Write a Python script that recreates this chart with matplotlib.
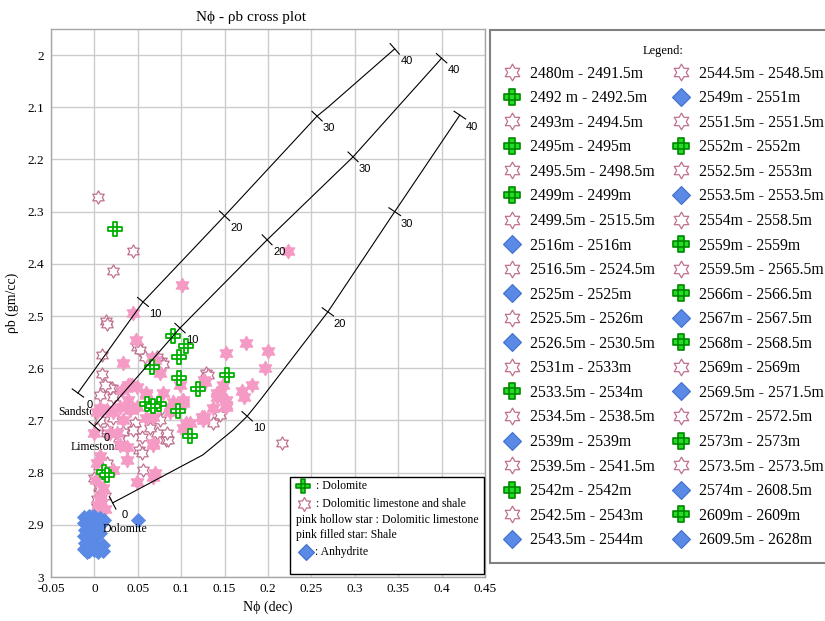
import numpy as np
import matplotlib
matplotlib.use("Agg")
import matplotlib.pyplot as plt
from matplotlib.path import Path
from matplotlib.lines import Line2D
from matplotlib.patches import Rectangle

plt.rcParams['font.family'] = ['Liberation Serif', 'DejaVu Serif']

# ---------------- data ----------------
hollow_x = [0.004, 0.045, 0.021, 0.013, 0.014, 0.009, 0.009, 0.216, 0.049, 0.053,
            0.058, 0.077, 0.079, 0.129, 0.131, 0.020, 0.022, 0.145, 0.137, 0.083,
            0.072, 0.022, 0.047, 0.076, 0.078, 0.014, 0.033, 0.055, 0.051, 0.085,
            0.005, 0.005, 0.007, 0.056, 0.028, 0.014, 0.055, 0.007, 0.003, 0.007,
            0.015, 0.045, 0.064, 0.084, 0.018, 0.007, 0.012, 0.072, 0.010, 0.012,
            0.000, 0.003]
hollow_y = [2.272, 2.375, 2.414, 2.509, 2.516, 2.574, 2.611, 2.743, 2.559, 2.566,
            2.578, 2.587, 2.591, 2.610, 2.612, 2.638, 2.655, 2.690, 2.705, 2.737,
            2.725, 2.696, 2.705, 2.699, 2.677, 2.725, 2.722, 2.731, 2.757, 2.737,
            2.788, 2.827, 2.865, 2.795, 2.734, 2.782, 2.762, 2.829, 2.866, 2.699,
            2.718, 2.718, 2.715, 2.724, 2.638, 2.651, 2.632, 2.578, 2.800, 2.845,
            2.810, 2.850]

filled_x = [0.223, 0.101, 0.044, 0.048, 0.033, 0.175, 0.152, 0.200, 0.196, 0.181,
            0.170, 0.148, 0.127, 0.076, 0.070, 0.066, 0.099, 0.039, 0.049, 0.060,
            0.079, 0.141, 0.172, 0.145, 0.152, 0.126, 0.106, 0.102, 0.126, 0.102,
            0.087, 0.068, 0.068, 0.041, 0.091, 0.102, 0.141, 0.152, 0.007, 0.030,
            0.014, 0.037, 0.049, 0.033, 0.060, 0.087, 0.099, 0.110, 0.106, 0.124,
            0.137, -0.001, 0.030, 0.068, 0.007, 0.022, 0.070, 0.003, 0.008, 0.049,
            0.068, 0.038, 0.007, 0.018, 0.026, 0.038, 0.125, 0.152, 0.041, 0.022,
            0.003, 0.032, 0.043, 0.039, 0.060, 0.002, 0.010, 0.004, 0.012]
filled_y = [2.375, 2.440, 2.494, 2.546, 2.590, 2.551, 2.571, 2.567, 2.600, 2.632,
            2.643, 2.632, 2.626, 2.610, 2.584, 2.581, 2.632, 2.632, 2.635, 2.647,
            2.647, 2.647, 2.655, 2.648, 2.674, 2.693, 2.705, 2.715, 2.623, 2.667,
            2.674, 2.693, 2.744, 2.632, 2.664, 2.661, 2.655, 2.661, 2.677, 2.674,
            2.680, 2.674, 2.674, 2.699, 2.696, 2.683, 2.670, 2.705, 2.718, 2.693,
            2.677, 2.725, 2.747, 2.747, 2.769, 2.795, 2.801, 2.782, 2.846, 2.818,
            2.808, 2.776, 2.852, 2.724, 2.724, 2.751, 2.699, 2.670, 2.680, 2.684,
            2.684, 2.642, 2.632, 2.661, 2.651, 2.815, 2.830, 2.862, 2.870]

cross_x = [0.024, 0.091, 0.106, 0.098, 0.066, 0.098, 0.153, 0.119, 0.061, 0.074,
           0.096, 0.110, 0.011, 0.014, 0.068]
cross_y = [2.333, 2.538, 2.557, 2.578, 2.598, 2.619, 2.612, 2.640, 2.669, 2.669,
           2.682, 2.730, 2.798, 2.805, 2.672]

diamond_x = [-0.012, -0.006, 0.000, 0.006, 0.011, -0.012, -0.005, 0.002, 0.008,
             -0.011, -0.004, 0.003, 0.006, -0.012, -0.006, 0.000, -0.011, -0.005,
             0.002, 0.010, -0.012, -0.006, 0.000, 0.010, -0.009, 0.004, 0.050]
diamond_y = [2.885, 2.883, 2.884, 2.886, 2.890, 2.897, 2.895, 2.896, 2.898,
             2.910, 2.908, 2.910, 2.915, 2.922, 2.920, 2.923, 2.935, 2.933,
             2.936, 2.938, 2.947, 2.950, 2.948, 2.950, 2.953, 2.953, 2.891]

# porosity lines (neutron porosity vs bulk density)
sand_x = [-0.019, 0.056, 0.150, 0.2565, 0.269, 0.346]
sand_y = [2.6475, 2.473, 2.308, 2.117, 2.100, 1.988]
sand_ticks = [0, 1, 2, 3, 5]
lime_x = [0.000, 0.0986, 0.199, 0.298, 0.400]
lime_y = [2.711, 2.523, 2.354, 2.195, 2.006]
lime_ticks = [0, 1, 2, 3, 4]
dolo_x = [0.021, 0.125, 0.160, 0.176, 0.191, 0.269, 0.346, 0.421]
dolo_y = [2.858, 2.766, 2.718, 2.692, 2.661, 2.492, 2.300, 2.115]
dolo_ticks = [0, 3, 5, 6, 7]
por_labels = ['0', '10', '20', '30', '40']

x_ticks = [-0.05, 0.0, 0.05, 0.1, 0.15, 0.2, 0.25, 0.3, 0.35, 0.4, 0.45]
x_tick_labels = ['-0.05', '0', '0.05', '0.1', '0.15', '0.2', '0.25', '0.3', '0.35', '0.4', '0.45']
y_ticks = [2.0, 2.1, 2.2, 2.3, 2.4, 2.5, 2.6, 2.7, 2.8, 2.9, 3.0]
y_tick_labels = ['2', '2.1', '2.2', '2.3', '2.4', '2.5', '2.6', '2.7', '2.8', '2.9', '3']

legend_labels_col1 = ['2480m - 2491.5m', '2492 m - 2492.5m', '2493m - 2494.5m', '2495m - 2495m',
                      '2495.5m - 2498.5m', '2499m - 2499m', '2499.5m - 2515.5m', '2516m - 2516m',
                      '2516.5m - 2524.5m', '2525m - 2525m', '2525.5m - 2526m', '2526.5m - 2530.5m',
                      '2531m - 2533m', '2533.5m - 2534m', '2534.5m - 2538.5m', '2539m - 2539m',
                      '2539.5m - 2541.5m', '2542m - 2542m', '2542.5m - 2543m', '2543.5m - 2544m']
legend_kinds_col1 = ['s', 'c', 's', 'c', 's', 'c', 's', 'd', 's', 'd',
                     's', 'd', 's', 'c', 's', 'd', 's', 'c', 's', 'd']
legend_labels_col2 = ['2544.5m - 2548.5m', '2549m - 2551m', '2551.5m - 2551.5m', '2552m - 2552m',
                      '2552.5m - 2553m', '2553.5m - 2553.5m', '2554m - 2558.5m', '2559m - 2559m',
                      '2559.5m - 2565.5m', '2566m - 2566.5m', '2567m - 2567.5m', '2568m - 2568.5m',
                      '2569m - 2569m', '2569.5m - 2571.5m', '2572m - 2572.5m', '2573m - 2573m',
                      '2573.5m - 2573.5m', '2574m - 2608.5m', '2609m - 2609m', '2609.5m - 2628m']
legend_kinds_col2 = ['s', 'd', 's', 'c', 's', 'd', 's', 'c', 's', 'c',
                     'd', 'c', 's', 'd', 's', 'c', 's', 'd', 'c', 'd']

# ---------------- styles ----------------
W, H = 825, 621
def fx(p):
    return p / W
def fy(p):
    return 1 - p / H

def hexagram_path():
    verts = []
    for k in range(12):
        ang = np.pi / 2 + k * np.pi / 6
        r = 1.0 if k % 2 == 0 else 1 / np.sqrt(3)
        verts.append((r * np.cos(ang), r * np.sin(ang)))
    verts.append(verts[0])
    codes = [Path.MOVETO] + [Path.LINETO] * 11 + [Path.CLOSEPOLY]
    return Path(verts, codes)

def cross_path():
    a = 1 / 3.0
    outer = [(-a, -1), (a, -1), (a, -a), (1, -a), (1, a), (a, a), (a, 1), (-a, 1),
             (-a, a), (-1, a), (-1, -a), (-a, -a), (-a, -1)]
    inner = [(-a, -a), (a, -a), (a, a), (-a, a), (-a, -a)]
    verts = outer + inner
    codes = ([Path.MOVETO] + [Path.LINETO] * 11 + [Path.CLOSEPOLY] +
             [Path.MOVETO] + [Path.LINETO] * 3 + [Path.CLOSEPOLY])
    return Path(verts, codes)

STAR = hexagram_path()
CROSS = cross_path()
PINK = '#f49ac4'
MAUVE = '#c0708f'
GREEN = '#00b000'
BLUE = '#5b8ae6'
BLUE_E = '#4070cc'

fig = plt.figure(figsize=(W / 100, H / 100), dpi=100)
ax = fig.add_axes([fx(51), fy(577), 434 / W, 548 / H])
ax.set_xlim(-0.05, 0.45)
ax.set_ylim(3.0, 1.95)

ax.set_xticks(x_ticks)
ax.set_xticklabels(x_tick_labels)
ax.set_yticks(y_ticks)
ax.set_yticklabels(y_tick_labels)
ax.tick_params(length=0, labelsize=9.5, pad=5)
ax.tick_params(axis='x', pad=4)
ax.grid(True, color='#cccccc', lw=1.0)
ax.set_axisbelow(True)
for s in ax.spines.values():
    s.set_color('#a6a6a6')
    s.set_linewidth(1.0)

# data points
ax.plot(hollow_x, hollow_y, ls='none', marker=STAR, ms=9.5, mfc='white', mec=MAUVE, mew=0.9, zorder=3)
ax.plot(filled_x, filled_y, ls='none', marker=STAR, ms=10.5, mfc=PINK, mec=PINK, mew=0.8, zorder=4)
ax.plot(cross_x, cross_y, ls='none', marker=CROSS, ms=9.5, mfc='white', mec=GREEN, mew=1.3, zorder=5)
ax.plot(diamond_x, diamond_y, ls='none', marker='D', ms=7, mfc=BLUE, mec=BLUE, mew=0.6, zorder=5)

# porosity lines with ticks
for lx, ly, idx in [(sand_x, sand_y, sand_ticks), (lime_x, lime_y, lime_ticks), (dolo_x, dolo_y, dolo_ticks)]:
    ax.plot(lx, ly, color='black', lw=0.8, zorder=6)
    T = ax.transData
    pts = T.transform(np.column_stack([lx, ly]))
    for lab, i in zip(por_labels, idx):
        a = pts[max(i - 1, 0)]
        b = pts[min(i + 1, len(pts) - 1)]
        d = b - a
        d = d / np.hypot(*d)
        n = np.array([-d[1], d[0]])
        ends = T.inverted().transform(np.array([pts[i] + 7 * n, pts[i] - 7 * n]))
        ax.plot(ends[:, 0], ends[:, 1], color='black', lw=0.8, zorder=6)
        ax.annotate(lab, (lx[i], ly[i]), xytext=(12, -12), textcoords='offset pixels',
                    ha='center', va='center', fontsize=8, family=['Liberation Sans', 'DejaVu Sans'],
                    zorder=7)

ax.text(-0.042, 2.683, 'Sandstone', fontsize=8.5, ha='left', va='center', zorder=2)
ax.text(-0.027, 2.750, 'Limestone', fontsize=8.5, ha='left', va='center', zorder=2)
ax.text(0.010, 2.908, 'Dolomite', fontsize=8.5, ha='left', va='center', zorder=7)

ax.set_xlabel('N\u03d5 (dec)', fontsize=10, labelpad=4)
ax.set_ylabel('\u03c1b (gm/cc)', fontsize=10, labelpad=6)
fig.text(fx(251), fy(18), 'N\u03d5 - \u03c1b cross plot', fontsize=11, ha='center', va='center')

# inner legend box
ax.add_patch(Rectangle((fx(290), fy(574)), (484 - 290) / W, (574 - 477) / H, transform=fig.transFigure,
                       facecolor='white', edgecolor='black', lw=1.0, zorder=8, clip_on=False))
fig.add_artist(Line2D([fx(303)], [fy(486)], marker=CROSS, ms=10, mfc='#22dd22', mec='#008800', mew=1.1, zorder=9))
fig.add_artist(Line2D([fx(304)], [fy(504)], marker=STAR, ms=10, mfc='white', mec=MAUVE, mew=0.9, zorder=9))
fig.add_artist(Line2D([fx(306)], [fy(552)], marker='D', ms=8, mfc=BLUE, mec=BLUE_E, mew=0.8, zorder=9))
for txt, xx, yy in [(': Dolomite', 316, 486), (': Dolomitic limestone and shale', 316, 504),
                    ('pink hollow star : Dolomitic limestone', 296, 520),
                    ('pink filled star: Shale', 296, 535), (': Anhydrite', 315, 552)]:
    fig.text(fx(xx), fy(yy), txt, fontsize=8.5, ha='left', va='center', zorder=9)

# right legend
fig.add_artist(Rectangle((fx(490), fy(563)), 340 / W, 533 / H, transform=fig.transFigure,
                         facecolor='white', edgecolor='#808080', lw=1.5, zorder=1))

def handle(kind):
    if kind == 's':
        return Line2D([], [], ls='none', marker=STAR, ms=12, mfc='white', mec=MAUVE, mew=0.9)
    if kind == 'c':
        return Line2D([], [], ls='none', marker=CROSS, ms=12, mfc='#22dd22', mec='#008800', mew=1.2)
    return Line2D([], [], ls='none', marker='D', ms=9.5, mfc=BLUE, mec=BLUE_E, mew=0.8)

handles = [handle(k) for k in legend_kinds_col1 + legend_kinds_col2]
labels = legend_labels_col1 + legend_labels_col2
leg = fig.legend(handles, labels, ncol=2, loc='upper left', bbox_to_anchor=(fx(499.5), fy(42)),
                 frameon=False, fontsize=11.3, title='Legend:', title_fontsize=9,
                 labelspacing=0.545, handlelength=1.2, handletextpad=0.55, columnspacing=1.05,
                 borderpad=0.2, borderaxespad=0)
leg.set_zorder(3)

fig.savefig('out.png', dpi=100)
